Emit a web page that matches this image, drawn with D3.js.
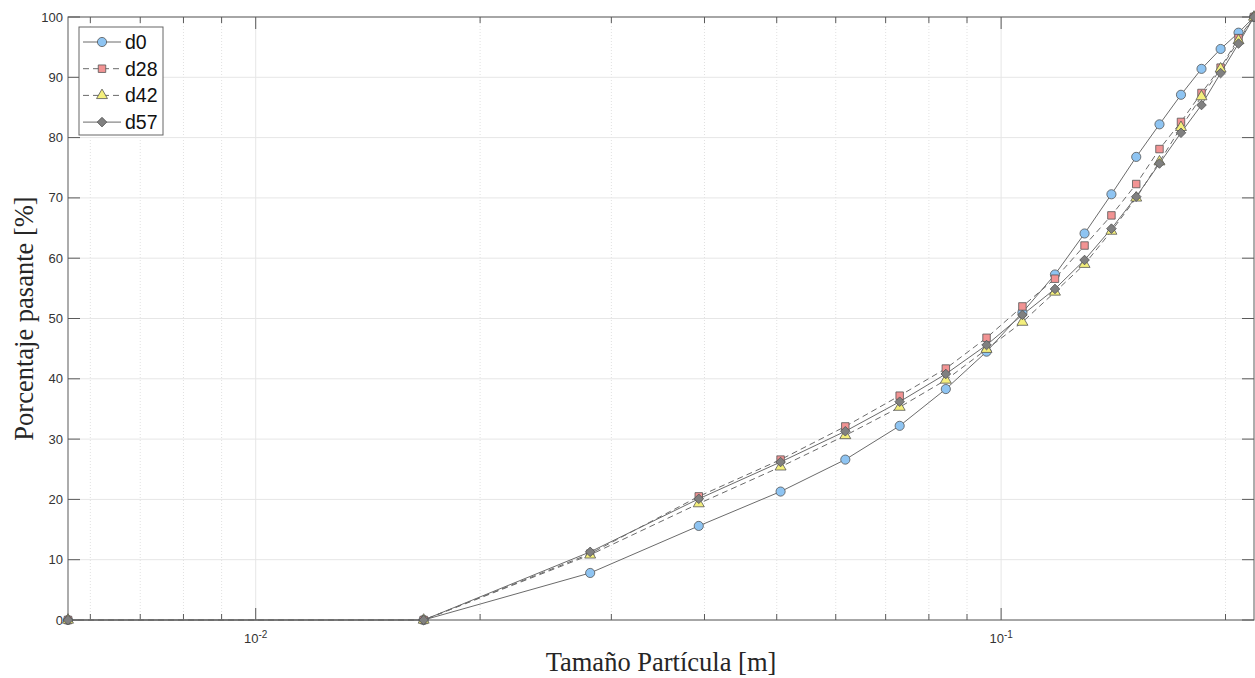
<!DOCTYPE html>
<html><head><meta charset="utf-8">
<script src="https://cdn.jsdelivr.net/npm/d3@7"></script>
<style>body{margin:0;background:#fff}svg{display:block}</style>
</head><body>
<svg id="c" width="1255" height="678"></svg>
<script>
const sizes = [0.0056, 0.0168, 0.0281, 0.0393, 0.0506, 0.0618, 0.0731, 0.0843, 0.0956, 0.1068, 0.1181, 0.1294, 0.1406, 0.1518, 0.1631, 0.1743, 0.1857, 0.1970, 0.2082, 0.2184];
const d0  = [0, 0, 7.8, 15.6, 21.3, 26.6, 32.2, 38.3, 44.5, 51.0, 57.3, 64.1, 70.6, 76.8, 82.2, 87.1, 91.4, 94.7, 97.4, 100];
const d28 = [0, 0, 11.0, 20.5, 26.6, 32.1, 37.2, 41.7, 46.8, 52.0, 56.6, 62.1, 67.1, 72.3, 78.1, 82.6, 87.4, 91.6, 96.5, 100];
const d42 = [0, 0, 10.8, 19.3, 25.4, 30.6, 35.3, 39.8, 44.9, 49.4, 54.4, 59.0, 64.5, 70.0, 76.0, 81.7, 86.8, 91.4, 96.1, 100];
const d57 = [0, 0, 11.3, 20.1, 26.2, 31.3, 36.2, 40.8, 45.6, 50.6, 54.9, 59.7, 64.9, 70.2, 75.7, 80.8, 85.4, 90.7, 95.6, 100];
const seriesNames = ["d0", "d28", "d42", "d57"];
const yTicks = [0, 10, 20, 30, 40, 50, 60, 70, 80, 90, 100];
const xMajorTicks = [0.01, 0.1];
const xMajorLabels = ["-2", "-1"];

const series = [
  {name: "d0",  values: d0,  symbol: d3.symbolCircle,   fill: "#8ec4f2", dash: null, size: 66, rot: 0},
  {name: "d28", values: d28, symbol: d3.symbolSquare,   fill: "#f29393", dash: "6,4", size: 56, rot: 0},
  {name: "d42", values: d42, symbol: d3.symbolTriangle, fill: "#f4ef7c", dash: "6,4", size: 52, rot: 0},
  {name: "d57", values: d57, symbol: d3.symbolSquare,   fill: "#808080", dash: null, size: 46, rot: 45}
];

const L = 68, R = 1254, T = 17, B = 620;
const svg = d3.select("#c");
const x = d3.scaleLog().domain([sizes[0], sizes[sizes.length-1]]).range([L, R]);
const y = d3.scaleLinear().domain([0, 100]).range([B, T]);

const minor = [];
for (const dec of [0.001, 0.01, 0.1]) for (let m = 2; m <= 9; m++) {
  const v = dec * m; if (v >= x.domain()[0] && v <= x.domain()[1]) minor.push(v);
}

const grid = svg.append("g");
grid.selectAll(".mg").data(minor).join("line")
  .attr("x1", d => x(d)).attr("x2", d => x(d)).attr("y1", T).attr("y2", B)
  .attr("stroke", "#d9d9d9").attr("stroke-width", 0.8).attr("stroke-dasharray", "1,2");
grid.selectAll(".Mg").data(xMajorTicks).join("line")
  .attr("x1", d => x(d)).attr("x2", d => x(d)).attr("y1", T).attr("y2", B)
  .attr("stroke", "#e6e6e6").attr("stroke-width", 1);
grid.selectAll(".yg").data(yTicks).join("line")
  .attr("x1", L).attr("x2", R).attr("y1", d => y(d)).attr("y2", d => y(d))
  .attr("stroke", "#e6e6e6").attr("stroke-width", 1);

const axc = "#5a5a5a";
svg.append("rect").attr("x", L).attr("y", T).attr("width", R - L).attr("height", B - T)
  .attr("fill", "none").attr("stroke", axc).attr("stroke-width", 1);

const tk = svg.append("g").attr("stroke", axc).attr("stroke-width", 1);
yTicks.forEach(v => {
  tk.append("line").attr("x1", L).attr("x2", L + 12).attr("y1", y(v)).attr("y2", y(v));
  tk.append("line").attr("x1", R).attr("x2", R - 12).attr("y1", y(v)).attr("y2", y(v));
});
xMajorTicks.forEach(v => {
  tk.append("line").attr("x1", x(v)).attr("x2", x(v)).attr("y1", B).attr("y2", B - 12);
  tk.append("line").attr("x1", x(v)).attr("x2", x(v)).attr("y1", T).attr("y2", T + 12);
});
minor.forEach(v => {
  tk.append("line").attr("x1", x(v)).attr("x2", x(v)).attr("y1", B).attr("y2", B - 6);
  tk.append("line").attr("x1", x(v)).attr("x2", x(v)).attr("y1", T).attr("y2", T + 6);
});

const lab = svg.append("g").attr("font-family", "Liberation Sans, Arial, sans-serif").attr("fill", "#333");
yTicks.forEach(v => {
  lab.append("text").attr("x", L - 5).attr("y", y(v)).attr("dy", "0.35em")
    .attr("text-anchor", "end").attr("font-size", 13).text(v);
});
xMajorTicks.forEach((v, i) => {
  const t = lab.append("text").attr("x", x(v)).attr("y", B + 23).attr("text-anchor", "middle").attr("font-size", 13);
  t.append("tspan").text("10");
  t.append("tspan").attr("dy", -5).attr("font-size", 10).text(xMajorLabels[i]);
});

svg.append("text").attr("x", (L + R) / 2).attr("y", 671).attr("text-anchor", "middle")
  .attr("font-family", "Liberation Serif, Times New Roman, serif").attr("font-size", 26.5).attr("fill", "#262626")
  .text("Tamaño Partícula [m]");
svg.append("text").attr("transform", `translate(33,${(T + B) / 2}) rotate(-90)`).attr("text-anchor", "middle")
  .attr("font-family", "Liberation Serif, Times New Roman, serif").attr("font-size", 26.5).attr("fill", "#262626")
  .text("Porcentaje pasante [%]");

const line = d3.line().x(d => x(d[0])).y(d => y(d[1]));
const lineColor = "#6b6b6b";
series.forEach(s => {
  const pts = sizes.map((v, i) => [v, s.values[i]]);
  svg.append("path").attr("d", line(pts)).attr("fill", "none").attr("stroke", lineColor)
    .attr("stroke-width", 1).attr("stroke-dasharray", s.dash);
});
series.forEach(s => {
  const sym = d3.symbol().type(s.symbol).size(s.size);
  svg.append("g").selectAll("path").data(sizes.map((v, i) => [v, s.values[i]])).join("path")
    .attr("d", sym).attr("transform", d => `translate(${x(d[0])},${y(d[1])}) rotate(${s.rot})`)
    .attr("fill", s.fill).attr("stroke", "#555").attr("stroke-width", 0.8);
});

const lg = svg.append("g");
lg.append("rect").attr("x", 79).attr("y", 27).attr("width", 84).attr("height", 108)
  .attr("fill", "#fff").attr("stroke", "#666").attr("stroke-width", 1);
series.forEach((s, i) => {
  const yy = 42 + i * 26.7;
  lg.append("line").attr("x1", 83).attr("x2", 121).attr("y1", yy).attr("y2", yy)
    .attr("stroke", lineColor).attr("stroke-width", 1).attr("stroke-dasharray", s.dash);
  lg.append("path").attr("d", d3.symbol().type(s.symbol).size(s.size)())
    .attr("transform", `translate(102,${yy}) rotate(${s.rot})`).attr("fill", s.fill).attr("stroke", "#555").attr("stroke-width", 0.8);
  lg.append("text").attr("x", 125).attr("y", yy).attr("dy", "0.36em")
    .attr("font-family", "Liberation Sans, Arial, sans-serif").attr("font-size", 19.5).attr("fill", "#111")
    .text(seriesNames[i]);
});
</script>
</body></html>
